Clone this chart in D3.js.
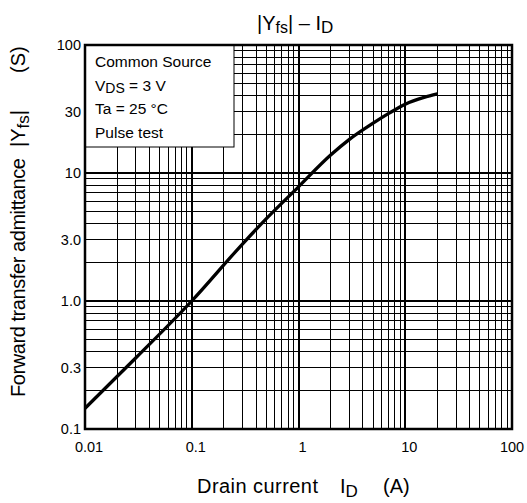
<!DOCTYPE html>
<html lang="en">
<head>
    <meta charset="UTF-8">
    <title>|Yfs| - ID</title>
    <script src="https://d3js.org/d3.v7.min.js"></script>
    <style>
        body {
            margin: 0;
            padding: 0;
            background: #fff;
            font-family: "Liberation Sans", Arial, sans-serif;
        }
        svg { display: block; }
        .tick-label { font-size: 14.5px; fill: #000; }
        .grid line { stroke: #000; shape-rendering: crispEdges; }
        .curve { fill: none; stroke: #000; stroke-width: 3.3px; }
    </style>
</head>
<body>
    <svg id="chart" width="527" height="503"></svg>

    <script>
        // Drain current ID (A) vs forward transfer admittance |Yfs| (S)
        const drainCurrent = [0.01, 0.03, 0.1, 0.3, 0.5, 1, 2, 3, 5, 7, 10, 15, 20];
        const admittance   = [0.145, 0.36, 1.0, 2.8, 4.4, 7.8, 13.8, 18.3, 24.5, 29.2, 34.5, 39, 41.5];

        const xTicks = [0.01, 0.1, 1, 10, 100];
        const xTickLabels = ["0.01", "0.1", "1", "10", "100"];
        const yTicks = [0.1, 0.3, 1, 3, 10, 30, 100];
        const yTickLabels = ["0.1", "0.3", "1.0", "3.0", "10", "30", "100"];

        const legendLines = ["Common Source", "VDS = 3 V", "Ta = 25 °C", "Pulse test"];

        const margin = { top: 45, right: 15, bottom: 74, left: 85 };
        const width = 527 - margin.left - margin.right;
        const height = 503 - margin.top - margin.bottom;

        const svg = d3.select("#chart");
        const g = svg.append("g")
            .attr("transform", `translate(${margin.left},${margin.top})`);

        const x = d3.scaleLog().domain([0.01, 100]).range([0, width]);
        const y = d3.scaleLog().domain([0.1, 100]).range([height, 0]);

        // grid values: 1..9 per decade
        const gridX = [];
        for (let d = 0.01; d < 100; d *= 10) {
            for (let m = 1; m < 10; m++) gridX.push(+(d * m).toPrecision(3));
        }
        const gridY = [];
        for (let d = 0.1; d < 100; d *= 10) {
            for (let m = 1; m < 10; m++) gridY.push(+(d * m).toPrecision(3));
        }
        const isDecade = v => Math.abs(Math.log10(v) - Math.round(Math.log10(v))) < 1e-6;

        const grid = g.append("g").attr("class", "grid");
        grid.selectAll(".gx")
            .data(gridX)
            .enter()
            .append("line")
            .attr("x1", d => x(d)).attr("x2", d => x(d))
            .attr("y1", 0).attr("y2", height)
            .attr("stroke-width", d => isDecade(d) ? 2 : 1);
        grid.selectAll(".gy")
            .data(gridY)
            .enter()
            .append("line")
            .attr("y1", d => y(d)).attr("y2", d => y(d))
            .attr("x1", 0).attr("x2", width)
            .attr("stroke-width", d => isDecade(d) ? 2 : 1);

        // curve
        const pts = drainCurrent.map((c, i) => ({ c: c, v: admittance[i] }));
        g.append("path")
            .datum(pts)
            .attr("class", "curve")
            .attr("d", d3.line()
                .x(d => x(d.c))
                .y(d => y(d.v))
                .curve(d3.curveMonotoneX));

        // legend box
        g.append("rect")
            .attr("x", 0).attr("y", 0)
            .attr("width", 149).attr("height", 102)
            .attr("fill", "#fff")
            .attr("stroke", "#000")
            .attr("stroke-width", 1);

        const legend = g.append("g");
        legendLines.forEach((t, i) => {
            const txt = legend.append("text")
                .attr("x", 10)
                .attr("y", 22 + i * 23.7)
                .attr("font-size", 15.5);
            if (t.startsWith("VDS")) {
                txt.append("tspan").text("V");
                txt.append("tspan").attr("font-size", 14).attr("dy", 2).text("DS");
                txt.append("tspan").attr("dy", -2).text(" = 3 V");
            } else {
                txt.text(t);
            }
        });

        // frame
        g.append("rect")
            .attr("x", 0).attr("y", 0)
            .attr("width", width).attr("height", height)
            .attr("fill", "none")
            .attr("stroke", "#000")
            .attr("stroke-width", 2.5);

        // tick labels
        g.selectAll(".xl")
            .data(xTicks)
            .enter()
            .append("text")
            .attr("class", "tick-label")
            .attr("x", (d, i) => x(d) + (i === xTicks.length - 1 ? 0 : 4))
            .attr("y", height + 23)
            .attr("text-anchor", "middle")
            .text((d, i) => xTickLabels[i]);

        g.selectAll(".yl")
            .data(yTicks)
            .enter()
            .append("text")
            .attr("class", "tick-label")
            .attr("x", -4)
            .attr("y", d => y(d) + 5)
            .attr("text-anchor", "end")
            .text((d, i) => yTickLabels[i]);

        // title
        const title = svg.append("text")
            .attr("x", 257).attr("y", 30)
            .attr("font-size", 20);
        title.append("tspan").text("|Y");
        title.append("tspan").attr("font-size", 16).attr("dy", 3).text("fs");
        title.append("tspan").attr("dy", -3).text("| \u2013 I");
        title.append("tspan").attr("font-size", 17).attr("dy", 3).text("D");

        // x axis label
        const xLabel = svg.append("text")
            .attr("x", 197).attr("y", 493)
            .attr("font-size", 20);
        xLabel.append("tspan").attr("textLength", 121).attr("lengthAdjust", "spacing").text("Drain current");
        xLabel.append("tspan").attr("x", 340).text("I");
        xLabel.append("tspan").attr("font-size", 17).attr("dy", 4).text("D");
        xLabel.append("tspan").attr("dy", -4).attr("x", 383).text("(A)");

        // y axis label
        const yLabel = svg.append("text")
            .attr("transform", "translate(25,397) rotate(-90)")
            .attr("font-size", 20);
        yLabel.append("tspan").attr("textLength", 239).attr("lengthAdjust", "spacing").text("Forward transfer admittance");
        yLabel.append("tspan").attr("x", 250).text("|Y");
        yLabel.append("tspan").attr("font-size", 17).attr("dy", 4).text("fs");
        yLabel.append("tspan").attr("dy", -4).text("|");
        yLabel.append("tspan").attr("x", 324).text("(S)");
    </script>
</body>
</html>
